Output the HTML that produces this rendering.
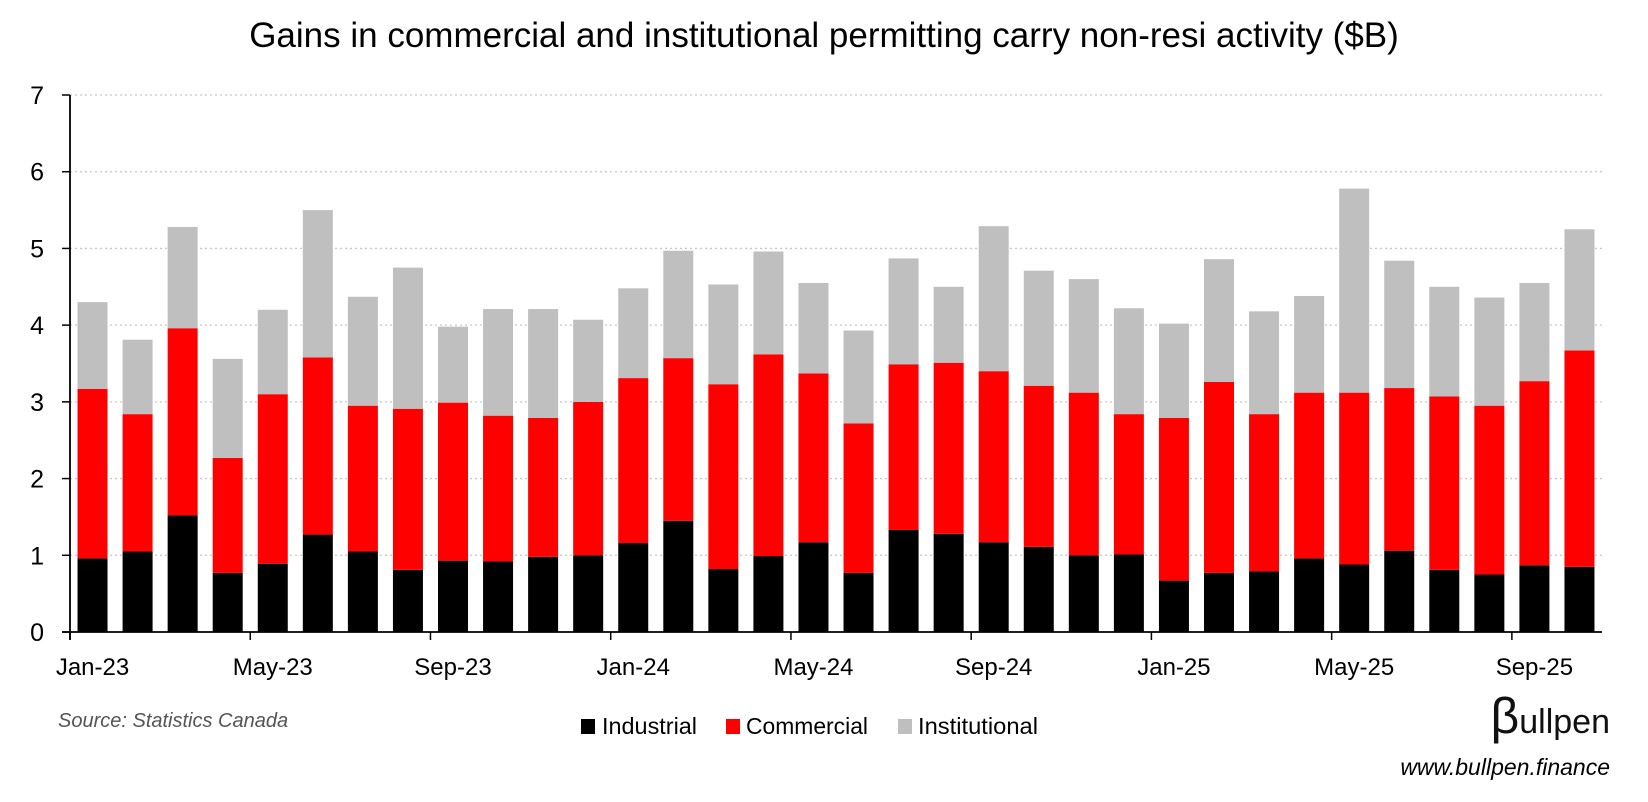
<!DOCTYPE html>
<html><head><meta charset="utf-8"><style>
html,body{margin:0;padding:0;background:#fff;}
svg{display:block;font-family:"Liberation Sans",sans-serif;}
</style></head><body>
<svg id="chart" width="1648" height="802" viewBox="0 0 1648 802">
<text x="824" y="47" text-anchor="middle" font-size="35" fill="#000">Gains in commercial and institutional permitting carry non-resi activity ($B)</text>
<g id="grid"></g>
<g id="bars"></g>
<g id="axes"></g>
<text x="58" y="727" font-size="20" font-style="italic" fill="#555">Source: Statistics Canada</text>
<g>
<g><rect x="581" y="719" width="14" height="15" fill="#000"/><text x="602" y="734" font-size="23" textLength="95" lengthAdjust="spacingAndGlyphs">Industrial</text></g>
<g><rect x="726" y="719" width="14" height="15" fill="#ff0000"/><text x="746" y="734" font-size="23" textLength="122" lengthAdjust="spacingAndGlyphs">Commercial</text></g>
<g><rect x="898" y="719" width="14" height="15" fill="#bfbfbf"/><text x="918" y="734" font-size="23" textLength="120" lengthAdjust="spacingAndGlyphs">Institutional</text></g>
</g>
<text x="1610" y="733" text-anchor="end" fill="#111"><tspan font-size="50">β</tspan><tspan font-size="34">ullpen</tspan></text>
<text x="1610" y="775" text-anchor="end" font-size="23" font-style="italic" fill="#000">www.bullpen.finance</text>
</svg>
<script>
const months = ["Jan-23","Feb-23","Mar-23","Apr-23","May-23","Jun-23","Jul-23","Aug-23","Sep-23","Oct-23","Nov-23","Dec-23","Jan-24","Feb-24","Mar-24","Apr-24","May-24","Jun-24","Jul-24","Aug-24","Sep-24","Oct-24","Nov-24","Dec-24","Jan-25","Feb-25","Mar-25","Apr-25","May-25","Jun-25","Jul-25","Aug-25","Sep-25","Oct-25"];
const industrial = [0.96,1.05,1.52,0.77,0.89,1.27,1.05,0.81,0.93,0.92,0.98,1.00,1.16,1.45,0.82,0.99,1.17,0.77,1.33,1.28,1.17,1.11,1.00,1.01,0.67,0.77,0.79,0.96,0.88,1.06,0.81,0.75,0.87,0.85];
const commercial = [2.21,1.79,2.44,1.50,2.21,2.31,1.90,2.10,2.06,1.90,1.81,2.00,2.15,2.12,2.41,2.63,2.20,1.95,2.16,2.23,2.23,2.10,2.12,1.83,2.12,2.49,2.05,2.16,2.24,2.12,2.26,2.20,2.40,2.82];
const institutional = [1.13,0.97,1.32,1.29,1.10,1.92,1.42,1.84,0.99,1.39,1.42,1.07,1.17,1.40,1.30,1.34,1.18,1.21,1.38,0.99,1.89,1.50,1.48,1.38,1.23,1.60,1.34,1.26,2.66,1.66,1.43,1.41,1.28,1.58];
const yTicks = [0,1,2,3,4,5,6,7];
const xLabelEvery = 4;

const NS="http://www.w3.org/2000/svg";
const X0=70, X1=1602, Y0=632, YT=95, YMAX=7;
const band=(X1-X0)/months.length, bw=30;
const y=v=>Y0-(v/YMAX)*(Y0-YT);
const xc=i=>X0+band*(i+0.5);
function mk(tag,attrs,parent){const e=document.createElementNS(NS,tag);for(const k in attrs)e.setAttribute(k,attrs[k]);parent.appendChild(e);return e;}
const grid=document.getElementById('grid'), bars=document.getElementById('bars'), axes=document.getElementById('axes');
yTicks.forEach(t=>{
  if(t>0){const l=mk('line',{x1:X0,x2:X1,y1:y(t),y2:y(t),stroke:'#c8c8c8','stroke-width':1.3,'stroke-dasharray':'2 3'},grid);
  
  }
  const tk=mk('line',{x1:X0-8,x2:X0,y1:y(t),y2:y(t),stroke:'#000','stroke-width':1.5},axes);
  
  
  const tx=mk('text',{x:44,y:y(t)+9,'text-anchor':'end','font-size':25,fill:'#000'},axes);
  tx.textContent=t;
  
  
});
months.forEach((m,i)=>{
  let base=0;
  [[industrial,'#000000','industrial'],[commercial,'#ff0000','commercial'],[institutional,'#bfbfbf','institutional']].forEach(([arr,col,nm])=>{
    const v=arr[i];
    const r=mk('rect',{x:xc(i)-bw/2,y:y(base+v),width:bw,height:y(base)-y(base+v),fill:col},bars);
    
    
    base+=v;
  });
  if(i%xLabelEvery===0){
    const tk=mk('line',{x1:X0+band*i,x2:X0+band*i,y1:Y0,y2:Y0+8,stroke:'#000','stroke-width':1.5},axes);
    
    
    const tx=mk('text',{x:xc(i),y:675,'text-anchor':'middle','font-size':24,fill:'#000'},axes);
    tx.textContent=m;
    
    
  }
});
const ya=mk('line',{x1:X0,x2:X0,y1:YT,y2:Y0+8,stroke:'#000','stroke-width':1.8},axes);


const xa=mk('line',{x1:X0-8,x2:X1,y1:Y0,y2:Y0,stroke:'#000','stroke-width':1.8},axes);


</script>
</body></html>
